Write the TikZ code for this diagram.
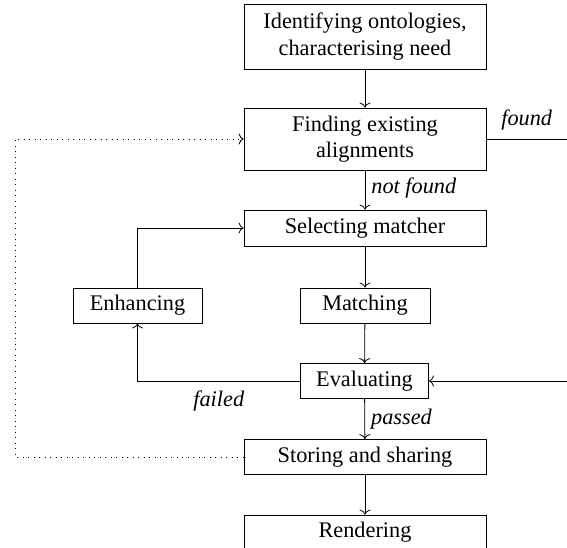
\documentclass[tikz,border=0pt]{standalone}
\usepackage{fontspec}
\setmainfont{Liberation Serif}
\usetikzlibrary{arrows.meta}
\begin{document}
\begin{tikzpicture}[x=1pt,y=-1pt,
  box/.style={draw,line width=0.9pt,inner sep=0pt,align=center,font=\fontsize{22.3}{26.5}\selectfont},
  lbl/.style={font=\fontsize{22.3}{26.5}\selectfont\itshape,inner sep=0pt},
  tip/.style={-{To[length=5pt,width=11pt]}},
  conn/.style={line width=0.8pt,tip},
  dots/.style={line width=0.9pt,dash pattern=on 1pt off 4.5pt}]
\useasboundingbox (0,0) rectangle (567,548);
\clip (0,0) rectangle (567,548);
\node[box,minimum width=242pt,minimum height=65pt] (ident) at (365,36.5) {Identifying ontologies,\\characterising need};
\node[box,minimum width=242pt,minimum height=62pt] (find) at (365,139) {Finding existing\\alignments};
\node[box,minimum width=242pt,minimum height=36pt] (sel) at (365,228) {Selecting matcher};
\node[box,minimum width=129pt,minimum height=35pt] (enh) at (137.5,305.5) {Enhancing};
\node[box,minimum width=130pt,minimum height=35pt] (mat) at (365,305.5) {Matching};
\node[box,minimum width=128pt,minimum height=35pt] (eva) at (364.5,381) {Evaluating};
\node[box,minimum width=242pt,minimum height=35pt] (sto) at (365,457) {Storing and sharing};
\node[box,minimum width=242pt,minimum height=35pt] (ren) at (365,532.5) {Rendering};
\coordinate (foundend) at (567,139);
\coordinate (evain) at (567,381);
\coordinate (loopcorner) at (15,139);
\draw[conn] (ident) -- (find);
\draw[conn] (find) -- node[lbl,right=6pt,pos=0.45] {not found} (sel);
\draw[conn] (sel) -- (mat);
\draw[conn] (mat) -- (eva);
\draw[conn] (eva) -- node[lbl,right=6pt,pos=0.5] {passed} (sto);
\draw[conn] (sto) -- (ren);
\draw[conn] (eva.west) -| node[lbl,pos=0.25,below=9pt] {failed} (enh.south);
\draw[conn] (enh.north) |- (sel.west);
\draw[line width=0.8pt] (find.east) -- node[lbl,above=8pt] {found} (foundend);
\draw[conn] (evain) -- (eva.east);
\draw[dots,tip] (sto.west) -| (loopcorner) -- (find.west);
\end{tikzpicture}
\end{document}
